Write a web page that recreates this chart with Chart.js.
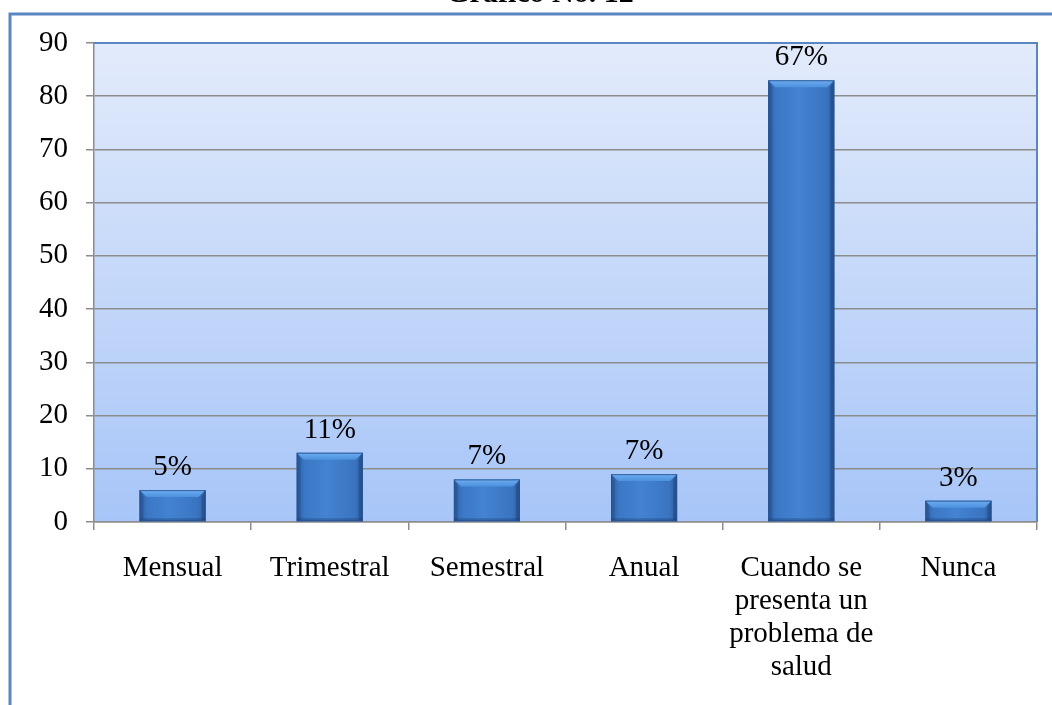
<!DOCTYPE html>
<html><head><meta charset="utf-8">
<script src="https://cdn.jsdelivr.net/npm/chart.js@4.4.1/dist/chart.umd.min.js"></script>
<style>html,body{margin:0;padding:0;background:#fff;overflow:hidden}</style>
</head><body>
<canvas id="c" width="1052" height="705" style="display:block;width:1052px;height:705px"></canvas>
<script>
const titleText = 'Gráfico No. 12';
const categories = ['Mensual', 'Trimestral', 'Semestral', 'Anual', ['Cuando se', 'presenta un', 'problema de', 'salud'], 'Nunca'];
const values = [6, 13, 8, 9, 83, 4];
const percentLabels = ['5%', '11%', '7%', '7%', '67%', '3%'];
const yMin = 0, yMax = 90, yStep = 10;

const FONT = "'Liberation Serif', 'Times New Roman', serif";
const BLUE_BORDER = '#5a86c1';
const GRID = '#8c8c8c';

const decorPlugin = {
  id: 'decor',
  beforeDraw(chart) {
    const ctx = chart.ctx;
    const a = chart.chartArea;
    ctx.save();
    ctx.fillStyle = '#ffffff';
    ctx.fillRect(0, 0, chart.width, chart.height);
    ctx.strokeStyle = BLUE_BORDER;
    ctx.lineWidth = 3;
    ctx.beginPath();
    ctx.moveTo(10, chart.height + 10);
    ctx.lineTo(10, 14);
    ctx.lineTo(chart.width + 10, 14);
    ctx.stroke();
    ctx.fillStyle = '#000';
    ctx.font = 'bold 30px ' + FONT;
    ctx.textAlign = 'center';
    ctx.textBaseline = 'alphabetic';
    ctx.fillText(titleText, 540, 2);
    const g = ctx.createLinearGradient(0, a.top, 0, a.bottom);
    g.addColorStop(0, '#e2ebfb');
    g.addColorStop(1, '#a7c5f8');
    ctx.fillStyle = g;
    ctx.fillRect(a.left, a.top, a.right - a.left, a.bottom - a.top);
    ctx.restore();
  },
  afterDatasetsDraw(chart) {
    const ctx = chart.ctx;
    const meta = chart.getDatasetMeta(0);
    ctx.save();
    meta.data.forEach((bar) => {
      const p = bar.getProps(['x', 'y', 'base', 'width'], true);
      const x0 = p.x - p.width / 2, x1 = p.x + p.width / 2;
      const y0 = p.y, y1 = p.base;
      const h = y1 - y0;
      const gb = ctx.createLinearGradient(x0, 0, x1, 0);
      gb.addColorStop(0, '#2f60a2');
      gb.addColorStop(0.12, '#3b77c4');
      gb.addColorStop(0.45, '#4383d2');
      gb.addColorStop(0.88, '#3a74c0');
      gb.addColorStop(1, '#2d5c9b');
      ctx.fillStyle = gb;
      ctx.fillRect(x0, y0, x1 - x0, h);
      const b = Math.min(7, h / 2.5);
      const gt = ctx.createLinearGradient(0, y0, 0, y0 + b);
      gt.addColorStop(0, '#6cacf0');
      gt.addColorStop(1, '#4d91de');
      ctx.fillStyle = gt;
      ctx.beginPath();
      ctx.moveTo(x0, y0); ctx.lineTo(x1, y0); ctx.lineTo(x1 - b, y0 + b); ctx.lineTo(x0 + b, y0 + b); ctx.closePath();
      ctx.fill();
      const s = Math.min(4, b);
      ctx.fillStyle = 'rgba(30,70,130,0.35)';
      ctx.beginPath();
      ctx.moveTo(x0, y0); ctx.lineTo(x0 + s, y0 + b); ctx.lineTo(x0 + s, y1 - 2); ctx.lineTo(x0, y1); ctx.closePath();
      ctx.fill();
      ctx.fillStyle = 'rgba(25,60,115,0.4)';
      ctx.beginPath();
      ctx.moveTo(x1, y0); ctx.lineTo(x1 - s, y0 + b); ctx.lineTo(x1 - s, y1 - 2); ctx.lineTo(x1, y1); ctx.closePath();
      ctx.fill();
      ctx.fillStyle = 'rgba(20,50,100,0.3)';
      ctx.fillRect(x0, y1 - 3, x1 - x0, 3);
      ctx.strokeStyle = 'rgba(40,80,140,0.8)';
      ctx.lineWidth = 1;
      ctx.strokeRect(x0 + 0.5, y0 + 0.5, x1 - x0 - 1, h - 1);
    });
    ctx.restore();
  },
  afterDraw(chart) {
    const ctx = chart.ctx;
    const a = chart.chartArea;
    ctx.save();
    ctx.strokeStyle = BLUE_BORDER;
    ctx.lineWidth = 2;
    ctx.beginPath();
    ctx.moveTo(a.left, a.top);
    ctx.lineTo(a.right, a.top);
    ctx.lineTo(a.right, a.bottom);
    ctx.stroke();
    const meta = chart.getDatasetMeta(0);
    ctx.fillStyle = '#000';
    ctx.font = '29px ' + FONT;
    ctx.textAlign = 'center';
    ctx.textBaseline = 'alphabetic';
    meta.data.forEach((bar, i) => {
      ctx.fillText(percentLabels[i], bar.x, bar.y - 15);
    });
    ctx.restore();
  }
};

new Chart(document.getElementById('c'), {
  type: 'bar',
  data: {
    labels: categories,
    datasets: [{
      data: values,
      backgroundColor: '#3b78c8',
      borderWidth: 0,
      barPercentage: 0.84,
      categoryPercentage: 0.5
    }]
  },
  options: {
    responsive: false,
    animation: false,
    devicePixelRatio: 1,
    layout: { padding: { top: 43, right: 15, left: 0, bottom: 0 } },
    plugins: { legend: { display: false }, tooltip: { enabled: false }, title: { display: false } },
    scales: {
      x: {
        offset: true,
        grid: { display: true, drawOnChartArea: false, drawTicks: true, tickLength: 8, color: GRID, lineWidth: 1.5, offset: true },
        border: { display: true, color: GRID, width: 1.5 },
        ticks: { color: '#000', font: { family: FONT, size: 29, lineHeight: 1.14 }, padding: 22, maxRotation: 0, autoSkip: false },
        afterFit(s) { s.height = 183; }
      },
      y: {
        min: yMin, max: yMax,
        grid: { color: GRID, lineWidth: 1.5, tickLength: 8, drawTicks: true },
        border: { display: true, color: GRID, width: 1.5 },
        ticks: { stepSize: yStep, color: '#000', font: { family: FONT, size: 29 }, padding: 18 },
        afterFit(s) { s.width = 94; }
      }
    }
  },
  plugins: [decorPlugin]
});
</script>
</body></html>
